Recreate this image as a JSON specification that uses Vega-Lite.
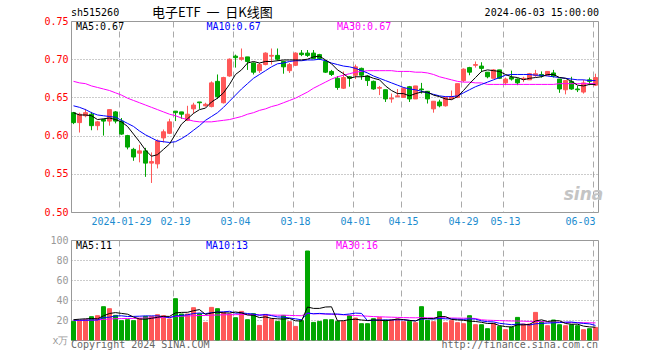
{
  "$schema": "https://vega.github.io/schema/vega-lite/v6.json",
  "background": "white",
  "padding": {"left": 43, "top": 6, "right": 5, "bottom": 5},
  "autosize": {"type": "pad"},
  "spacing": 28,
  "bounds": "flush",
  "config": {
    "view": {"stroke": "#999999", "strokeWidth": 1},
    "axis": {"labelFont": "DejaVu Sans Mono", "labelFontSize": 10, "gridWidth": 1, "labelOverlap": false},
    "text": {"font": "DejaVu Sans Mono", "fontSize": 10}
  },
  "datasets": {
    "k": [
{"d":"2024-01-17","o":0.630,"h":0.631,"l":0.615,"c":0.617,"v":18.6,"m5":0.630,"m10":0.639,"m30":0.671,"v5":20.3,"v10":19.8,"v30":19.5},
{"d":"2024-01-18","o":0.617,"h":0.630,"l":0.604,"c":0.628,"v":19.6,"m5":0.627,"m10":0.637,"m30":0.669,"v5":20.8,"v10":19.8,"v30":19.6},
{"d":"2024-01-19","o":0.626,"h":0.635,"l":0.624,"c":0.630,"v":20.3,"m5":0.627,"m10":0.634,"m30":0.668,"v5":21.2,"v10":19.8,"v30":19.7},
{"d":"2024-01-22","o":0.628,"h":0.631,"l":0.607,"c":0.613,"v":23.3,"m5":0.626,"m10":0.630,"m30":0.665,"v5":21.5,"v10":20.0,"v30":19.8},
{"d":"2024-01-23","o":0.613,"h":0.619,"l":0.607,"c":0.618,"v":24.3,"m5":0.621,"m10":0.627,"m30":0.663,"v5":21.2,"v10":20.0,"v30":20.0},
{"d":"2024-01-24","o":0.621,"h":0.622,"l":0.600,"c":0.619,"v":33.3,"m5":0.622,"m10":0.626,"m30":0.661,"v5":24.2,"v10":22.5,"v30":20.6},
{"d":"2024-01-25","o":0.619,"h":0.634,"l":0.613,"c":0.634,"v":31.3,"m5":0.623,"m10":0.625,"m30":0.659,"v5":26.5,"v10":22.8,"v30":21.0},
{"d":"2024-01-26","o":0.631,"h":0.632,"l":0.616,"c":0.619,"v":24.6,"m5":0.621,"m10":0.624,"m30":0.656,"v5":27.4,"v10":24.0,"v30":21.3},
{"d":"2024-01-29","o":0.619,"h":0.623,"l":0.601,"c":0.602,"v":19.3,"m5":0.618,"m10":0.620,"m30":0.653,"v5":26.6,"v10":24.2,"v30":21.4},
{"d":"2024-01-30","o":0.600,"h":0.601,"l":0.582,"c":0.585,"v":20.3,"m5":0.612,"m10":0.616,"m30":0.649,"v5":25.8,"v10":23.5,"v30":21.5},
{"d":"2024-01-31","o":0.582,"h":0.584,"l":0.567,"c":0.572,"v":19.3,"m5":0.602,"m10":0.612,"m30":0.646,"v5":23.0,"v10":23.6,"v30":21.6},
{"d":"2024-02-01","o":0.577,"h":0.588,"l":0.565,"c":0.580,"v":21.6,"m5":0.592,"m10":0.606,"m30":0.643,"v5":21.0,"v10":23.8,"v30":21.8},
{"d":"2024-02-02","o":0.580,"h":0.584,"l":0.546,"c":0.564,"v":23.6,"m5":0.581,"m10":0.601,"m30":0.640,"v5":20.8,"v10":24.1,"v30":22.0},
{"d":"2024-02-05","o":0.564,"h":0.578,"l":0.538,"c":0.566,"v":23.6,"m5":0.573,"m10":0.597,"m30":0.637,"v5":21.7,"v10":24.1,"v30":22.0},
{"d":"2024-02-06","o":0.563,"h":0.595,"l":0.557,"c":0.593,"v":25.3,"m5":0.575,"m10":0.593,"m30":0.634,"v5":22.7,"v10":24.2,"v30":22.2},
{"d":"2024-02-07","o":0.597,"h":0.608,"l":0.591,"c":0.605,"v":24.3,"m5":0.582,"m10":0.592,"m30":0.631,"v5":23.7,"v10":23.3,"v30":22.5},
{"d":"2024-02-08","o":0.603,"h":0.622,"l":0.602,"c":0.618,"v":21.0,"m5":0.589,"m10":0.591,"m30":0.628,"v5":23.6,"v10":22.3,"v30":22.8},
{"d":"2024-02-19","o":0.632,"h":0.632,"l":0.619,"c":0.630,"v":41.3,"m5":0.602,"m10":0.592,"m30":0.626,"v5":27.1,"v10":24.0,"v30":23.5},
{"d":"2024-02-20","o":0.631,"h":0.631,"l":0.622,"c":0.628,"v":26.0,"m5":0.615,"m10":0.596,"m30":0.623,"v5":27.6,"v10":24.6,"v30":23.8},
{"d":"2024-02-21","o":0.620,"h":0.639,"l":0.619,"c":0.628,"v":26.0,"m5":0.622,"m10":0.601,"m30":0.621,"v5":27.7,"v10":25.2,"v30":24.0},
{"d":"2024-02-22","o":0.635,"h":0.643,"l":0.629,"c":0.640,"v":32.3,"m5":0.629,"m10":0.607,"m30":0.619,"v5":29.3,"v10":26.5,"v30":24.3},
{"d":"2024-02-23","o":0.644,"h":0.644,"l":0.635,"c":0.643,"v":26.3,"m5":0.634,"m10":0.613,"m30":0.618,"v5":30.4,"v10":27.0,"v30":24.5},
{"d":"2024-02-26","o":0.639,"h":0.643,"l":0.638,"c":0.641,"v":17.6,"m5":0.636,"m10":0.620,"m30":0.618,"v5":25.6,"v10":26.4,"v30":24.5},
{"d":"2024-02-27","o":0.638,"h":0.671,"l":0.637,"c":0.669,"v":32.6,"m5":0.644,"m10":0.625,"m30":0.618,"v5":27.0,"v10":27.3,"v30":24.8},
{"d":"2024-02-28","o":0.671,"h":0.680,"l":0.648,"c":0.651,"v":31.3,"m5":0.649,"m10":0.630,"m30":0.619,"v5":28.0,"v10":27.9,"v30":25.0},
{"d":"2024-02-29","o":0.643,"h":0.677,"l":0.642,"c":0.676,"v":27.6,"m5":0.656,"m10":0.637,"m30":0.620,"v5":27.1,"v10":28.2,"v30":25.2},
{"d":"2024-03-01","o":0.678,"h":0.701,"l":0.677,"c":0.700,"v":26.0,"m5":0.667,"m10":0.645,"m30":0.621,"v5":27.0,"v10":28.7,"v30":25.3},
{"d":"2024-03-04","o":0.704,"h":0.706,"l":0.689,"c":0.702,"v":22.3,"m5":0.680,"m10":0.653,"m30":0.623,"v5":28.0,"v10":26.8,"v30":25.3},
{"d":"2024-03-05","o":0.700,"h":0.714,"l":0.698,"c":0.702,"v":28.6,"m5":0.686,"m10":0.661,"m30":0.625,"v5":27.2,"v10":27.1,"v30":25.5},
{"d":"2024-03-06","o":0.703,"h":0.703,"l":0.686,"c":0.697,"v":20.3,"m5":0.695,"m10":0.668,"m30":0.628,"v5":25.0,"v10":26.5,"v30":25.4},
{"d":"2024-03-07","o":0.695,"h":0.696,"l":0.680,"c":0.683,"v":26.3,"m5":0.697,"m10":0.675,"m30":0.630,"v5":24.7,"v10":25.9,"v30":25.4},
{"d":"2024-03-08","o":0.685,"h":0.695,"l":0.682,"c":0.693,"v":14.6,"m5":0.695,"m10":0.680,"m30":0.633,"v5":22.4,"v10":24.7,"v30":25.2},
{"d":"2024-03-11","o":0.693,"h":0.709,"l":0.692,"c":0.708,"v":25.6,"m5":0.697,"m10":0.685,"m30":0.635,"v5":23.1,"v10":25.5,"v30":25.2},
{"d":"2024-03-12","o":0.704,"h":0.714,"l":0.693,"c":0.705,"v":21.0,"m5":0.697,"m10":0.690,"m30":0.638,"v5":21.6,"v10":24.4,"v30":25.0},
{"d":"2024-03-13","o":0.705,"h":0.714,"l":0.698,"c":0.700,"v":18.6,"m5":0.698,"m10":0.694,"m30":0.640,"v5":21.2,"v10":23.1,"v30":24.8},
{"d":"2024-03-14","o":0.697,"h":0.698,"l":0.681,"c":0.690,"v":24.6,"m5":0.699,"m10":0.695,"m30":0.643,"v5":20.9,"v10":22.8,"v30":24.8},
{"d":"2024-03-15","o":0.685,"h":0.695,"l":0.682,"c":0.693,"v":18.3,"m5":0.699,"m10":0.697,"m30":0.646,"v5":21.6,"v10":22.0,"v30":24.6},
{"d":"2024-03-18","o":0.692,"h":0.709,"l":0.691,"c":0.708,"v":13.6,"m5":0.699,"m10":0.698,"m30":0.649,"v5":19.2,"v10":21.2,"v30":24.4},
{"d":"2024-03-19","o":0.708,"h":0.712,"l":0.704,"c":0.706,"v":19.3,"m5":0.699,"m10":0.698,"m30":0.653,"v5":18.9,"v10":20.2,"v30":24.3},
{"d":"2024-03-20","o":0.708,"h":0.712,"l":0.703,"c":0.705,"v":89.0,"m5":0.700,"m10":0.699,"m30":0.657,"v5":33.0,"v10":27.1,"v30":26.5},
{"d":"2024-03-21","o":0.708,"h":0.712,"l":0.700,"c":0.701,"v":17.6,"m5":0.703,"m10":0.699,"m30":0.662,"v5":31.6,"v10":26.2,"v30":26.3},
{"d":"2024-03-22","o":0.706,"h":0.707,"l":0.699,"c":0.701,"v":18.6,"m5":0.704,"m10":0.700,"m30":0.666,"v5":31.6,"v10":26.6,"v30":26.2},
{"d":"2024-03-25","o":0.697,"h":0.699,"l":0.682,"c":0.683,"v":20.3,"m5":0.699,"m10":0.698,"m30":0.670,"v5":33.0,"v10":26.1,"v30":26.0},
{"d":"2024-03-26","o":0.684,"h":0.686,"l":0.678,"c":0.680,"v":20.3,"m5":0.694,"m10":0.695,"m30":0.674,"v5":33.2,"v10":26.0,"v30":25.8},
{"d":"2024-03-27","o":0.675,"h":0.678,"l":0.660,"c":0.663,"v":18.6,"m5":0.686,"m10":0.693,"m30":0.677,"v5":19.1,"v10":26.0,"v30":25.5},
{"d":"2024-03-28","o":0.662,"h":0.684,"l":0.661,"c":0.676,"v":18.6,"m5":0.681,"m10":0.691,"m30":0.679,"v5":19.3,"v10":25.4,"v30":25.2},
{"d":"2024-03-29","o":0.677,"h":0.678,"l":0.664,"c":0.675,"v":24.3,"m5":0.675,"m10":0.690,"m30":0.681,"v5":20.4,"v10":26.0,"v30":24.8},
{"d":"2024-04-01","o":0.679,"h":0.693,"l":0.674,"c":0.690,"v":22.0,"m5":0.677,"m10":0.688,"m30":0.683,"v5":20.8,"v10":26.9,"v30":24.5},
{"d":"2024-04-02","o":0.688,"h":0.689,"l":0.673,"c":0.679,"v":16.3,"m5":0.677,"m10":0.685,"m30":0.684,"v5":20.0,"v10":26.6,"v30":24.2},
{"d":"2024-04-03","o":0.678,"h":0.679,"l":0.665,"c":0.672,"v":16.3,"m5":0.678,"m10":0.682,"m30":0.685,"v5":19.5,"v10":19.3,"v30":23.8},
{"d":"2024-04-08","o":0.671,"h":0.672,"l":0.660,"c":0.661,"v":21.3,"m5":0.675,"m10":0.678,"m30":0.685,"v5":20.0,"v10":19.7,"v30":23.4},
{"d":"2024-04-09","o":0.662,"h":0.665,"l":0.653,"c":0.663,"v":22.6,"m5":0.673,"m10":0.675,"m30":0.685,"v5":19.7,"v10":20.1,"v30":23.2},
{"d":"2024-04-10","o":0.660,"h":0.660,"l":0.644,"c":0.648,"v":20.0,"m5":0.665,"m10":0.672,"m30":0.685,"v5":19.3,"v10":20.0,"v30":23.0},
{"d":"2024-04-11","o":0.648,"h":0.655,"l":0.643,"c":0.649,"v":20.0,"m5":0.659,"m10":0.669,"m30":0.685,"v5":20.0,"v10":20.0,"v30":22.8},
{"d":"2024-04-12","o":0.651,"h":0.661,"l":0.650,"c":0.652,"v":21.0,"m5":0.655,"m10":0.666,"m30":0.684,"v5":21.0,"v10":20.2,"v30":22.6},
{"d":"2024-04-15","o":0.650,"h":0.663,"l":0.650,"c":0.662,"v":18.3,"m5":0.655,"m10":0.663,"m30":0.684,"v5":20.4,"v10":20.2,"v30":22.4},
{"d":"2024-04-16","o":0.664,"h":0.665,"l":0.644,"c":0.648,"v":18.6,"m5":0.652,"m10":0.661,"m30":0.684,"v5":19.6,"v10":19.6,"v30":22.3},
{"d":"2024-04-17","o":0.648,"h":0.665,"l":0.648,"c":0.665,"v":17.3,"m5":0.655,"m10":0.660,"m30":0.683,"v5":19.0,"v10":19.2,"v30":22.2},
{"d":"2024-04-18","o":0.661,"h":0.669,"l":0.655,"c":0.660,"v":33.3,"m5":0.657,"m10":0.658,"m30":0.683,"v5":21.7,"v10":20.9,"v30":22.4},
{"d":"2024-04-19","o":0.658,"h":0.658,"l":0.642,"c":0.648,"v":19.6,"m5":0.657,"m10":0.656,"m30":0.682,"v5":21.4,"v10":21.2,"v30":22.2},
{"d":"2024-04-22","o":0.635,"h":0.645,"l":0.630,"c":0.645,"v":18.3,"m5":0.653,"m10":0.654,"m30":0.680,"v5":21.4,"v10":20.9,"v30":22.1},
{"d":"2024-04-23","o":0.644,"h":0.647,"l":0.637,"c":0.639,"v":28.3,"m5":0.651,"m10":0.652,"m30":0.677,"v5":23.4,"v10":21.5,"v30":22.3},
{"d":"2024-04-24","o":0.639,"h":0.651,"l":0.638,"c":0.650,"v":17.3,"m5":0.648,"m10":0.651,"m30":0.675,"v5":23.4,"v10":21.2,"v30":22.2},
{"d":"2024-04-25","o":0.648,"h":0.659,"l":0.647,"c":0.651,"v":19.3,"m5":0.647,"m10":0.651,"m30":0.673,"v5":20.6,"v10":21.1,"v30":22.0},
{"d":"2024-04-26","o":0.650,"h":0.668,"l":0.649,"c":0.668,"v":17.3,"m5":0.651,"m10":0.652,"m30":0.671,"v5":20.1,"v10":20.8,"v30":21.9},
{"d":"2024-04-29","o":0.672,"h":0.688,"l":0.670,"c":0.687,"v":16.3,"m5":0.659,"m10":0.656,"m30":0.670,"v5":19.7,"v10":20.6,"v30":21.8},
{"d":"2024-04-30","o":0.689,"h":0.690,"l":0.679,"c":0.683,"v":24.3,"m5":0.668,"m10":0.660,"m30":0.670,"v5":18.9,"v10":21.1,"v30":21.8},
{"d":"2024-05-06","o":0.692,"h":0.697,"l":0.689,"c":0.693,"v":15.3,"m5":0.676,"m10":0.664,"m30":0.669,"v5":18.5,"v10":20.9,"v30":21.5},
{"d":"2024-05-07","o":0.691,"h":0.696,"l":0.683,"c":0.688,"v":15.3,"m5":0.684,"m10":0.667,"m30":0.669,"v5":17.7,"v10":19.1,"v30":20.2},
{"d":"2024-05-08","o":0.683,"h":0.683,"l":0.675,"c":0.677,"v":11.3,"m5":0.686,"m10":0.670,"m30":0.667,"v5":16.5,"v10":18.3,"v30":19.8},
{"d":"2024-05-09","o":0.675,"h":0.687,"l":0.675,"c":0.686,"v":16.6,"m5":0.685,"m10":0.673,"m30":0.667,"v5":16.6,"v10":18.1,"v30":19.6},
{"d":"2024-05-10","o":0.686,"h":0.686,"l":0.674,"c":0.675,"v":13.6,"m5":0.684,"m10":0.676,"m30":0.667,"v5":14.4,"v10":16.7,"v30":19.4},
{"d":"2024-05-13","o":0.669,"h":0.676,"l":0.666,"c":0.674,"v":10.3,"m5":0.680,"m10":0.679,"m30":0.667,"v5":13.4,"v10":16.0,"v30":19.2},
{"d":"2024-05-14","o":0.676,"h":0.685,"l":0.672,"c":0.674,"v":13.0,"m5":0.677,"m10":0.680,"m30":0.667,"v5":13.0,"v10":15.3,"v30":19.0},
{"d":"2024-05-15","o":0.674,"h":0.675,"l":0.666,"c":0.669,"v":22.6,"m5":0.676,"m10":0.680,"m30":0.667,"v5":15.2,"v10":15.9,"v30":19.0},
{"d":"2024-05-16","o":0.674,"h":0.677,"l":0.670,"c":0.675,"v":16.0,"m5":0.673,"m10":0.680,"m30":0.667,"v5":15.1,"v10":15.8,"v30":18.8},
{"d":"2024-05-17","o":0.673,"h":0.682,"l":0.673,"c":0.681,"v":16.0,"m5":0.675,"m10":0.680,"m30":0.667,"v5":15.6,"v10":15.0,"v30":18.6},
{"d":"2024-05-20","o":0.679,"h":0.686,"l":0.677,"c":0.681,"v":27.6,"m5":0.676,"m10":0.679,"m30":0.667,"v5":19.0,"v10":16.2,"v30":18.6},
{"d":"2024-05-21","o":0.680,"h":0.684,"l":0.676,"c":0.678,"v":18.6,"m5":0.677,"m10":0.679,"m30":0.667,"v5":20.2,"v10":16.6,"v30":18.4},
{"d":"2024-05-22","o":0.679,"h":0.684,"l":0.678,"c":0.684,"v":14.3,"m5":0.680,"m10":0.678,"m30":0.667,"v5":18.5,"v10":16.9,"v30":18.0},
{"d":"2024-05-23","o":0.682,"h":0.686,"l":0.676,"c":0.678,"v":20.0,"m5":0.680,"m10":0.677,"m30":0.667,"v5":19.3,"v10":17.2,"v30":17.9},
{"d":"2024-05-24","o":0.674,"h":0.674,"l":0.656,"c":0.661,"v":15.3,"m5":0.676,"m10":0.676,"m30":0.668,"v5":19.2,"v10":17.4,"v30":17.8},
{"d":"2024-05-27","o":0.660,"h":0.672,"l":0.654,"c":0.672,"v":14.3,"m5":0.675,"m10":0.675,"m30":0.668,"v5":16.5,"v10":17.8,"v30":17.6},
{"d":"2024-05-28","o":0.671,"h":0.677,"l":0.660,"c":0.661,"v":15.3,"m5":0.671,"m10":0.674,"m30":0.668,"v5":15.8,"v10":18.0,"v30":17.5},
{"d":"2024-05-29","o":0.661,"h":0.665,"l":0.657,"c":0.660,"v":14.3,"m5":0.666,"m10":0.673,"m30":0.668,"v5":15.8,"v10":17.2,"v30":17.4},
{"d":"2024-05-30","o":0.657,"h":0.673,"l":0.655,"c":0.669,"v":10.3,"m5":0.665,"m10":0.673,"m30":0.668,"v5":13.9,"v10":16.6,"v30":17.3},
{"d":"2024-05-31","o":0.673,"h":0.676,"l":0.666,"c":0.671,"v":11.3,"m5":0.667,"m10":0.672,"m30":0.668,"v5":13.1,"v10":16.1,"v30":17.2},
{"d":"2024-06-03","o":0.666,"h":0.681,"l":0.665,"c":0.676,"v":12.6,"m5":0.667,"m10":0.672,"m30":0.668,"v5":12.8,"v10":14.6,"v30":17.1}
    ]
  },
  "data": {"name": "k"},
  "vconcat": [
    {
      "width": 527,
      "height": 191,
      "layer": [
        {
          "mark": {"type": "rule", "strokeWidth": 1},
          "encoding": {
            "x": {"field": "d", "type": "ordinal", "scale": {"paddingInner": 0.3333, "paddingOuter": 0.0833},
              "axis": {"values": ["2024-01-29","2024-02-19","2024-03-04","2024-03-18","2024-04-01","2024-04-15","2024-04-29","2024-05-13","2024-06-03"], "labelExpr": "datum.value == '2024-01-29' ? datum.value : slice(datum.value, 5)", "bandPosition": 0, "grid": true, "gridDash": [6, 4], "gridColor": "#aaaaaa", "ticks": false, "domain": false, "title": null, "labelAngle": 0, "labelOverlap": false, "labelColor": "#1c8ccf", "labelPadding": 4, "labelBaseline": "top", "labelAlign": {"condition": {"test": "datum.value == '2024-06-03'", "value": "right"}, "value": "center"}}},
            "y": {"field": "l", "type": "quantitative", "scale": {"domain": [0.5, 0.75], "zero": false, "nice": false},
              "axis": {"values": [0.5, 0.55, 0.6, 0.65, 0.7, 0.75], "format": ".2f", "labelColor": "#ff0000", "labelOverlap": false, "grid": true, "gridDash": [1, 2], "gridColor": "#999999", "ticks": false, "domain": false, "title": null, "labelPadding": 3}},
            "y2": {"field": "h"},
            "color": {"condition": {"test": "datum.c >= datum.o", "value": "#ff5858"}, "value": "#00a600"}
          }
        },
        {
          "mark": {"type": "bar", "strokeWidth": 1},
          "encoding": {
            "x": {"field": "d", "type": "ordinal", "scale": {"paddingInner": 0.3333, "paddingOuter": 0.0833},
              "axis": {"values": ["2024-01-29","2024-02-19","2024-03-04","2024-03-18","2024-04-01","2024-04-15","2024-04-29","2024-05-13","2024-06-03"], "labelExpr": "datum.value == '2024-01-29' ? datum.value : slice(datum.value, 5)", "bandPosition": 0, "grid": true, "gridDash": [6, 4], "gridColor": "#aaaaaa", "ticks": false, "domain": false, "title": null, "labelAngle": 0, "labelOverlap": false, "labelColor": "#1c8ccf", "labelPadding": 4, "labelBaseline": "top", "labelAlign": {"condition": {"test": "datum.value == '2024-06-03'", "value": "right"}, "value": "center"}}},
            "y": {"field": "o", "type": "quantitative", "scale": {"domain": [0.5, 0.75], "zero": false, "nice": false},
              "axis": {"values": [0.5, 0.55, 0.6, 0.65, 0.7, 0.75], "format": ".2f", "labelColor": "#ff0000", "labelOverlap": false, "grid": true, "gridDash": [1, 2], "gridColor": "#999999", "ticks": false, "domain": false, "title": null, "labelPadding": 3}},
            "y2": {"field": "c"},
            "fill": {"condition": {"test": "datum.c >= datum.o", "value": "#ff5858"}, "value": "#00a600"},
            "stroke": {"condition": {"test": "datum.c >= datum.o", "value": "#ff5858"}, "value": "#00a600"}
          }
        },
        {
          "mark": {"type": "line", "color": "#ff00ff", "strokeWidth": 1},
          "encoding": {
            "x": {"field": "d", "type": "ordinal", "scale": {"paddingInner": 0.3333, "paddingOuter": 0.0833},
              "axis": {"values": ["2024-01-29","2024-02-19","2024-03-04","2024-03-18","2024-04-01","2024-04-15","2024-04-29","2024-05-13","2024-06-03"], "labelExpr": "datum.value == '2024-01-29' ? datum.value : slice(datum.value, 5)", "bandPosition": 0, "grid": true, "gridDash": [6, 4], "gridColor": "#aaaaaa", "ticks": false, "domain": false, "title": null, "labelAngle": 0, "labelOverlap": false, "labelColor": "#1c8ccf", "labelPadding": 4, "labelBaseline": "top", "labelAlign": {"condition": {"test": "datum.value == '2024-06-03'", "value": "right"}, "value": "center"}}},
            "y": {"field": "m30", "type": "quantitative", "scale": {"domain": [0.5, 0.75], "zero": false, "nice": false},
              "axis": {"values": [0.5, 0.55, 0.6, 0.65, 0.7, 0.75], "format": ".2f", "labelColor": "#ff0000", "labelOverlap": false, "grid": true, "gridDash": [1, 2], "gridColor": "#999999", "ticks": false, "domain": false, "title": null, "labelPadding": 3}}
          }
        },
        {
          "mark": {"type": "line", "color": "#0000ff", "strokeWidth": 1},
          "encoding": {
            "x": {"field": "d", "type": "ordinal", "scale": {"paddingInner": 0.3333, "paddingOuter": 0.0833},
              "axis": {"values": ["2024-01-29","2024-02-19","2024-03-04","2024-03-18","2024-04-01","2024-04-15","2024-04-29","2024-05-13","2024-06-03"], "labelExpr": "datum.value == '2024-01-29' ? datum.value : slice(datum.value, 5)", "bandPosition": 0, "grid": true, "gridDash": [6, 4], "gridColor": "#aaaaaa", "ticks": false, "domain": false, "title": null, "labelAngle": 0, "labelOverlap": false, "labelColor": "#1c8ccf", "labelPadding": 4, "labelBaseline": "top", "labelAlign": {"condition": {"test": "datum.value == '2024-06-03'", "value": "right"}, "value": "center"}}},
            "y": {"field": "m10", "type": "quantitative", "scale": {"domain": [0.5, 0.75], "zero": false, "nice": false},
              "axis": {"values": [0.5, 0.55, 0.6, 0.65, 0.7, 0.75], "format": ".2f", "labelColor": "#ff0000", "labelOverlap": false, "grid": true, "gridDash": [1, 2], "gridColor": "#999999", "ticks": false, "domain": false, "title": null, "labelPadding": 3}}
          }
        },
        {
          "mark": {"type": "line", "color": "#000000", "strokeWidth": 1},
          "encoding": {
            "x": {"field": "d", "type": "ordinal", "scale": {"paddingInner": 0.3333, "paddingOuter": 0.0833},
              "axis": {"values": ["2024-01-29","2024-02-19","2024-03-04","2024-03-18","2024-04-01","2024-04-15","2024-04-29","2024-05-13","2024-06-03"], "labelExpr": "datum.value == '2024-01-29' ? datum.value : slice(datum.value, 5)", "bandPosition": 0, "grid": true, "gridDash": [6, 4], "gridColor": "#aaaaaa", "ticks": false, "domain": false, "title": null, "labelAngle": 0, "labelOverlap": false, "labelColor": "#1c8ccf", "labelPadding": 4, "labelBaseline": "top", "labelAlign": {"condition": {"test": "datum.value == '2024-06-03'", "value": "right"}, "value": "center"}}},
            "y": {"field": "m5", "type": "quantitative", "scale": {"domain": [0.5, 0.75], "zero": false, "nice": false},
              "axis": {"values": [0.5, 0.55, 0.6, 0.65, 0.7, 0.75], "format": ".2f", "labelColor": "#ff0000", "labelOverlap": false, "grid": true, "gridDash": [1, 2], "gridColor": "#999999", "ticks": false, "domain": false, "title": null, "labelPadding": 3}}
          }
        },
        {
          "data": {"values": [{}]},
          "mark": {"type": "text", "align": "left", "baseline": "middle", "dx": 2.5, "color": "#000000"},
          "encoding": {
            "x": {"datum": "2024-01-17", "type": "ordinal", "axis": {"values": ["2024-01-29","2024-02-19","2024-03-04","2024-03-18","2024-04-01","2024-04-15","2024-04-29","2024-05-13","2024-06-03"], "labelExpr": "datum.value == '2024-01-29' ? datum.value : slice(datum.value, 5)", "bandPosition": 0, "grid": true, "gridDash": [6, 4], "gridColor": "#aaaaaa", "ticks": false, "domain": false, "title": null, "labelAngle": 0, "labelOverlap": false, "labelColor": "#1c8ccf", "labelPadding": 4, "labelBaseline": "top", "labelAlign": {"condition": {"test": "datum.value == '2024-06-03'", "value": "right"}, "value": "center"}}},
            "y": {"datum": 0.7428, "type": "quantitative", "axis": {"values": [0.5, 0.55, 0.6, 0.65, 0.7, 0.75], "format": ".2f", "labelColor": "#ff0000", "labelOverlap": false, "grid": true, "gridDash": [1, 2], "gridColor": "#999999", "ticks": false, "domain": false, "title": null, "labelPadding": 3}},
            "text": {"value": "MA5:0.67"}
          }
        },
        {
          "data": {"values": [{}]},
          "mark": {"type": "text", "align": "left", "baseline": "middle", "dx": 1, "color": "#0000ff"},
          "encoding": {
            "x": {"datum": "2024-02-26", "type": "ordinal", "axis": {"values": ["2024-01-29","2024-02-19","2024-03-04","2024-03-18","2024-04-01","2024-04-15","2024-04-29","2024-05-13","2024-06-03"], "labelExpr": "datum.value == '2024-01-29' ? datum.value : slice(datum.value, 5)", "bandPosition": 0, "grid": true, "gridDash": [6, 4], "gridColor": "#aaaaaa", "ticks": false, "domain": false, "title": null, "labelAngle": 0, "labelOverlap": false, "labelColor": "#1c8ccf", "labelPadding": 4, "labelBaseline": "top", "labelAlign": {"condition": {"test": "datum.value == '2024-06-03'", "value": "right"}, "value": "center"}}},
            "y": {"datum": 0.7428, "type": "quantitative", "axis": {"values": [0.5, 0.55, 0.6, 0.65, 0.7, 0.75], "format": ".2f", "labelColor": "#ff0000", "labelOverlap": false, "grid": true, "gridDash": [1, 2], "gridColor": "#999999", "ticks": false, "domain": false, "title": null, "labelPadding": 3}},
            "text": {"value": "MA10:0.67"}
          }
        },
        {
          "data": {"values": [{}]},
          "mark": {"type": "text", "align": "left", "baseline": "middle", "dx": -0.5, "color": "#ff00ff"},
          "encoding": {
            "x": {"datum": "2024-03-27", "type": "ordinal", "axis": {"values": ["2024-01-29","2024-02-19","2024-03-04","2024-03-18","2024-04-01","2024-04-15","2024-04-29","2024-05-13","2024-06-03"], "labelExpr": "datum.value == '2024-01-29' ? datum.value : slice(datum.value, 5)", "bandPosition": 0, "grid": true, "gridDash": [6, 4], "gridColor": "#aaaaaa", "ticks": false, "domain": false, "title": null, "labelAngle": 0, "labelOverlap": false, "labelColor": "#1c8ccf", "labelPadding": 4, "labelBaseline": "top", "labelAlign": {"condition": {"test": "datum.value == '2024-06-03'", "value": "right"}, "value": "center"}}},
            "y": {"datum": 0.7428, "type": "quantitative", "axis": {"values": [0.5, 0.55, 0.6, 0.65, 0.7, 0.75], "format": ".2f", "labelColor": "#ff0000", "labelOverlap": false, "grid": true, "gridDash": [1, 2], "gridColor": "#999999", "ticks": false, "domain": false, "title": null, "labelPadding": 3}},
            "text": {"value": "MA30:0.67"}
          }
        },
        {
          "data": {"values": [{}]},
          "mark": {"type": "text", "align": "left", "baseline": "middle", "dx": -2.5, "color": "#000000"},
          "encoding": {
            "x": {"datum": "2024-01-17", "type": "ordinal", "axis": {"values": ["2024-01-29","2024-02-19","2024-03-04","2024-03-18","2024-04-01","2024-04-15","2024-04-29","2024-05-13","2024-06-03"], "labelExpr": "datum.value == '2024-01-29' ? datum.value : slice(datum.value, 5)", "bandPosition": 0, "grid": true, "gridDash": [6, 4], "gridColor": "#aaaaaa", "ticks": false, "domain": false, "title": null, "labelAngle": 0, "labelOverlap": false, "labelColor": "#1c8ccf", "labelPadding": 4, "labelBaseline": "top", "labelAlign": {"condition": {"test": "datum.value == '2024-06-03'", "value": "right"}, "value": "center"}}},
            "y": {"datum": 0.761, "type": "quantitative", "axis": {"values": [0.5, 0.55, 0.6, 0.65, 0.7, 0.75], "format": ".2f", "labelColor": "#ff0000", "labelOverlap": false, "grid": true, "gridDash": [1, 2], "gridColor": "#999999", "ticks": false, "domain": false, "title": null, "labelPadding": 3}},
            "text": {"value": "sh515260"}
          }
        },
        {
          "data": {"values": [{}]},
          "mark": {"type": "text", "align": "left", "baseline": "middle", "dx": 0.5, "color": "#000000", "font": "Noto Sans CJK SC", "fontSize": 13},
          "encoding": {
            "x": {"datum": "2024-02-05", "type": "ordinal", "axis": {"values": ["2024-01-29","2024-02-19","2024-03-04","2024-03-18","2024-04-01","2024-04-15","2024-04-29","2024-05-13","2024-06-03"], "labelExpr": "datum.value == '2024-01-29' ? datum.value : slice(datum.value, 5)", "bandPosition": 0, "grid": true, "gridDash": [6, 4], "gridColor": "#aaaaaa", "ticks": false, "domain": false, "title": null, "labelAngle": 0, "labelOverlap": false, "labelColor": "#1c8ccf", "labelPadding": 4, "labelBaseline": "top", "labelAlign": {"condition": {"test": "datum.value == '2024-06-03'", "value": "right"}, "value": "center"}}},
            "y": {"datum": 0.761, "type": "quantitative", "axis": {"values": [0.5, 0.55, 0.6, 0.65, 0.7, 0.75], "format": ".2f", "labelColor": "#ff0000", "labelOverlap": false, "grid": true, "gridDash": [1, 2], "gridColor": "#999999", "ticks": false, "domain": false, "title": null, "labelPadding": 3}},
            "text": {"value": "电子ETF\u00a0\u00a0一\u00a0\u00a0日K线图"}
          }
        },
        {
          "data": {"values": [{}]},
          "mark": {"type": "text", "align": "right", "baseline": "middle", "dx": 3.5, "color": "#000000"},
          "encoding": {
            "x": {"datum": "2024-06-03", "type": "ordinal", "axis": {"values": ["2024-01-29","2024-02-19","2024-03-04","2024-03-18","2024-04-01","2024-04-15","2024-04-29","2024-05-13","2024-06-03"], "labelExpr": "datum.value == '2024-01-29' ? datum.value : slice(datum.value, 5)", "bandPosition": 0, "grid": true, "gridDash": [6, 4], "gridColor": "#aaaaaa", "ticks": false, "domain": false, "title": null, "labelAngle": 0, "labelOverlap": false, "labelColor": "#1c8ccf", "labelPadding": 4, "labelBaseline": "top", "labelAlign": {"condition": {"test": "datum.value == '2024-06-03'", "value": "right"}, "value": "center"}}},
            "y": {"datum": 0.761, "type": "quantitative", "axis": {"values": [0.5, 0.55, 0.6, 0.65, 0.7, 0.75], "format": ".2f", "labelColor": "#ff0000", "labelOverlap": false, "grid": true, "gridDash": [1, 2], "gridColor": "#999999", "ticks": false, "domain": false, "title": null, "labelPadding": 3}},
            "text": {"value": "2024-06-03 15:00:00"}
          }
        },
        {
          "data": {"values": [{}]},
          "mark": {"type": "text", "align": "center", "baseline": "middle", "color": "#c4c4c4", "font": "DejaVu Sans", "fontSize": 17, "fontStyle": "italic", "fontWeight": "bold"},
          "encoding": {
            "x": {"datum": "2024-05-30", "type": "ordinal", "axis": {"values": ["2024-01-29","2024-02-19","2024-03-04","2024-03-18","2024-04-01","2024-04-15","2024-04-29","2024-05-13","2024-06-03"], "labelExpr": "datum.value == '2024-01-29' ? datum.value : slice(datum.value, 5)", "bandPosition": 0, "grid": true, "gridDash": [6, 4], "gridColor": "#aaaaaa", "ticks": false, "domain": false, "title": null, "labelAngle": 0, "labelOverlap": false, "labelColor": "#1c8ccf", "labelPadding": 4, "labelBaseline": "top", "labelAlign": {"condition": {"test": "datum.value == '2024-06-03'", "value": "right"}, "value": "center"}}},
            "y": {"datum": 0.522, "type": "quantitative", "axis": {"values": [0.5, 0.55, 0.6, 0.65, 0.7, 0.75], "format": ".2f", "labelColor": "#ff0000", "labelOverlap": false, "grid": true, "gridDash": [1, 2], "gridColor": "#999999", "ticks": false, "domain": false, "title": null, "labelPadding": 3}},
            "text": {"value": "sina"}
          }
        }
      ]
    },
    {
      "width": 527,
      "height": 100,
      "layer": [
        {
          "mark": {"type": "bar", "strokeWidth": 1},
          "encoding": {
            "x": {"field": "d", "type": "ordinal", "scale": {"paddingInner": 0.3333, "paddingOuter": 0.0833},
              "axis": {"values": ["2024-01-29","2024-02-19","2024-03-04","2024-03-18","2024-04-01","2024-04-15","2024-04-29","2024-05-13","2024-06-03"], "bandPosition": 0, "grid": true, "gridDash": [6, 4], "gridColor": "#aaaaaa", "labels": false, "ticks": false, "domain": false, "title": null}},
            "y": {"field": "v", "type": "quantitative", "scale": {"domain": [0, 100], "nice": false},
              "axis": {"values": [0, 20, 40, 60, 80, 100], "labelExpr": "datum.value == 0 ? 'x万' : datum.label", "labelColor": "#999999", "labelOverlap": false, "grid": true, "gridDash": [1, 2], "gridColor": "#999999", "ticks": false, "domain": false, "title": null, "labelPadding": 3}},
            "fill": {"condition": {"test": "datum.c >= datum.o", "value": "#ff5858"}, "value": "#00a600"},
            "stroke": {"condition": {"test": "datum.c >= datum.o", "value": "#ff5858"}, "value": "#00a600"}
          }
        },
        {
          "mark": {"type": "line", "color": "#ff00ff", "strokeWidth": 1},
          "encoding": {
            "x": {"field": "d", "type": "ordinal", "scale": {"paddingInner": 0.3333, "paddingOuter": 0.0833},
              "axis": {"values": ["2024-01-29","2024-02-19","2024-03-04","2024-03-18","2024-04-01","2024-04-15","2024-04-29","2024-05-13","2024-06-03"], "bandPosition": 0, "grid": true, "gridDash": [6, 4], "gridColor": "#aaaaaa", "labels": false, "ticks": false, "domain": false, "title": null}},
            "y": {"field": "v30", "type": "quantitative", "scale": {"domain": [0, 100], "nice": false},
              "axis": {"values": [0, 20, 40, 60, 80, 100], "labelExpr": "datum.value == 0 ? 'x万' : datum.label", "labelColor": "#999999", "labelOverlap": false, "grid": true, "gridDash": [1, 2], "gridColor": "#999999", "ticks": false, "domain": false, "title": null, "labelPadding": 3}}
          }
        },
        {
          "mark": {"type": "line", "color": "#0000ff", "strokeWidth": 1},
          "encoding": {
            "x": {"field": "d", "type": "ordinal", "scale": {"paddingInner": 0.3333, "paddingOuter": 0.0833},
              "axis": {"values": ["2024-01-29","2024-02-19","2024-03-04","2024-03-18","2024-04-01","2024-04-15","2024-04-29","2024-05-13","2024-06-03"], "bandPosition": 0, "grid": true, "gridDash": [6, 4], "gridColor": "#aaaaaa", "labels": false, "ticks": false, "domain": false, "title": null}},
            "y": {"field": "v10", "type": "quantitative", "scale": {"domain": [0, 100], "nice": false},
              "axis": {"values": [0, 20, 40, 60, 80, 100], "labelExpr": "datum.value == 0 ? 'x万' : datum.label", "labelColor": "#999999", "labelOverlap": false, "grid": true, "gridDash": [1, 2], "gridColor": "#999999", "ticks": false, "domain": false, "title": null, "labelPadding": 3}}
          }
        },
        {
          "mark": {"type": "line", "color": "#000000", "strokeWidth": 1},
          "encoding": {
            "x": {"field": "d", "type": "ordinal", "scale": {"paddingInner": 0.3333, "paddingOuter": 0.0833},
              "axis": {"values": ["2024-01-29","2024-02-19","2024-03-04","2024-03-18","2024-04-01","2024-04-15","2024-04-29","2024-05-13","2024-06-03"], "bandPosition": 0, "grid": true, "gridDash": [6, 4], "gridColor": "#aaaaaa", "labels": false, "ticks": false, "domain": false, "title": null}},
            "y": {"field": "v5", "type": "quantitative", "scale": {"domain": [0, 100], "nice": false},
              "axis": {"values": [0, 20, 40, 60, 80, 100], "labelExpr": "datum.value == 0 ? 'x万' : datum.label", "labelColor": "#999999", "labelOverlap": false, "grid": true, "gridDash": [1, 2], "gridColor": "#999999", "ticks": false, "domain": false, "title": null, "labelPadding": 3}}
          }
        },
        {
          "data": {"values": [{}]},
          "mark": {"type": "text", "align": "left", "baseline": "middle", "dx": 2.5, "color": "#000000"},
          "encoding": {
            "x": {"datum": "2024-01-17", "type": "ordinal", "axis": {"values": ["2024-01-29","2024-02-19","2024-03-04","2024-03-18","2024-04-01","2024-04-15","2024-04-29","2024-05-13","2024-06-03"], "bandPosition": 0, "grid": true, "gridDash": [6, 4], "gridColor": "#aaaaaa", "labels": false, "ticks": false, "domain": false, "title": null}},
            "y": {"datum": 93.6, "type": "quantitative", "axis": {"values": [0, 20, 40, 60, 80, 100], "labelExpr": "datum.value == 0 ? 'x万' : datum.label", "labelColor": "#999999", "labelOverlap": false, "grid": true, "gridDash": [1, 2], "gridColor": "#999999", "ticks": false, "domain": false, "title": null, "labelPadding": 3}},
            "text": {"value": "MA5:11"}
          }
        },
        {
          "data": {"values": [{}]},
          "mark": {"type": "text", "align": "left", "baseline": "middle", "dx": 0.5, "color": "#0000ff"},
          "encoding": {
            "x": {"datum": "2024-02-26", "type": "ordinal", "axis": {"values": ["2024-01-29","2024-02-19","2024-03-04","2024-03-18","2024-04-01","2024-04-15","2024-04-29","2024-05-13","2024-06-03"], "bandPosition": 0, "grid": true, "gridDash": [6, 4], "gridColor": "#aaaaaa", "labels": false, "ticks": false, "domain": false, "title": null}},
            "y": {"datum": 93.6, "type": "quantitative", "axis": {"values": [0, 20, 40, 60, 80, 100], "labelExpr": "datum.value == 0 ? 'x万' : datum.label", "labelColor": "#999999", "labelOverlap": false, "grid": true, "gridDash": [1, 2], "gridColor": "#999999", "ticks": false, "domain": false, "title": null, "labelPadding": 3}},
            "text": {"value": "MA10:13"}
          }
        },
        {
          "data": {"values": [{}]},
          "mark": {"type": "text", "align": "left", "baseline": "middle", "dx": -1.5, "color": "#ff00ff"},
          "encoding": {
            "x": {"datum": "2024-03-27", "type": "ordinal", "axis": {"values": ["2024-01-29","2024-02-19","2024-03-04","2024-03-18","2024-04-01","2024-04-15","2024-04-29","2024-05-13","2024-06-03"], "bandPosition": 0, "grid": true, "gridDash": [6, 4], "gridColor": "#aaaaaa", "labels": false, "ticks": false, "domain": false, "title": null}},
            "y": {"datum": 93.6, "type": "quantitative", "axis": {"values": [0, 20, 40, 60, 80, 100], "labelExpr": "datum.value == 0 ? 'x万' : datum.label", "labelColor": "#999999", "labelOverlap": false, "grid": true, "gridDash": [1, 2], "gridColor": "#999999", "ticks": false, "domain": false, "title": null, "labelPadding": 3}},
            "text": {"value": "MA30:16"}
          }
        },
        {
          "data": {"values": [{}]},
          "mark": {"type": "text", "align": "left", "baseline": "middle", "dx": -2.5, "color": "#666666"},
          "encoding": {
            "x": {"datum": "2024-01-17", "type": "ordinal", "axis": {"values": ["2024-01-29","2024-02-19","2024-03-04","2024-03-18","2024-04-01","2024-04-15","2024-04-29","2024-05-13","2024-06-03"], "bandPosition": 0, "grid": true, "gridDash": [6, 4], "gridColor": "#aaaaaa", "labels": false, "ticks": false, "domain": false, "title": null}},
            "y": {"datum": -4.7, "type": "quantitative", "axis": {"values": [0, 20, 40, 60, 80, 100], "labelExpr": "datum.value == 0 ? 'x万' : datum.label", "labelColor": "#999999", "labelOverlap": false, "grid": true, "gridDash": [1, 2], "gridColor": "#999999", "ticks": false, "domain": false, "title": null, "labelPadding": 3}},
            "text": {"value": "Copyright 2024 SINA.COM"}
          }
        },
        {
          "data": {"values": [{}]},
          "mark": {"type": "text", "align": "right", "baseline": "middle", "dx": 2.5, "color": "#666666"},
          "encoding": {
            "x": {"datum": "2024-06-03", "type": "ordinal", "axis": {"values": ["2024-01-29","2024-02-19","2024-03-04","2024-03-18","2024-04-01","2024-04-15","2024-04-29","2024-05-13","2024-06-03"], "bandPosition": 0, "grid": true, "gridDash": [6, 4], "gridColor": "#aaaaaa", "labels": false, "ticks": false, "domain": false, "title": null}},
            "y": {"datum": -4.7, "type": "quantitative", "axis": {"values": [0, 20, 40, 60, 80, 100], "labelExpr": "datum.value == 0 ? 'x万' : datum.label", "labelColor": "#999999", "labelOverlap": false, "grid": true, "gridDash": [1, 2], "gridColor": "#999999", "ticks": false, "domain": false, "title": null, "labelPadding": 3}},
            "text": {"value": "http://finance.sina.com.cn"}
          }
        }
      ]
    }
  ]
}
